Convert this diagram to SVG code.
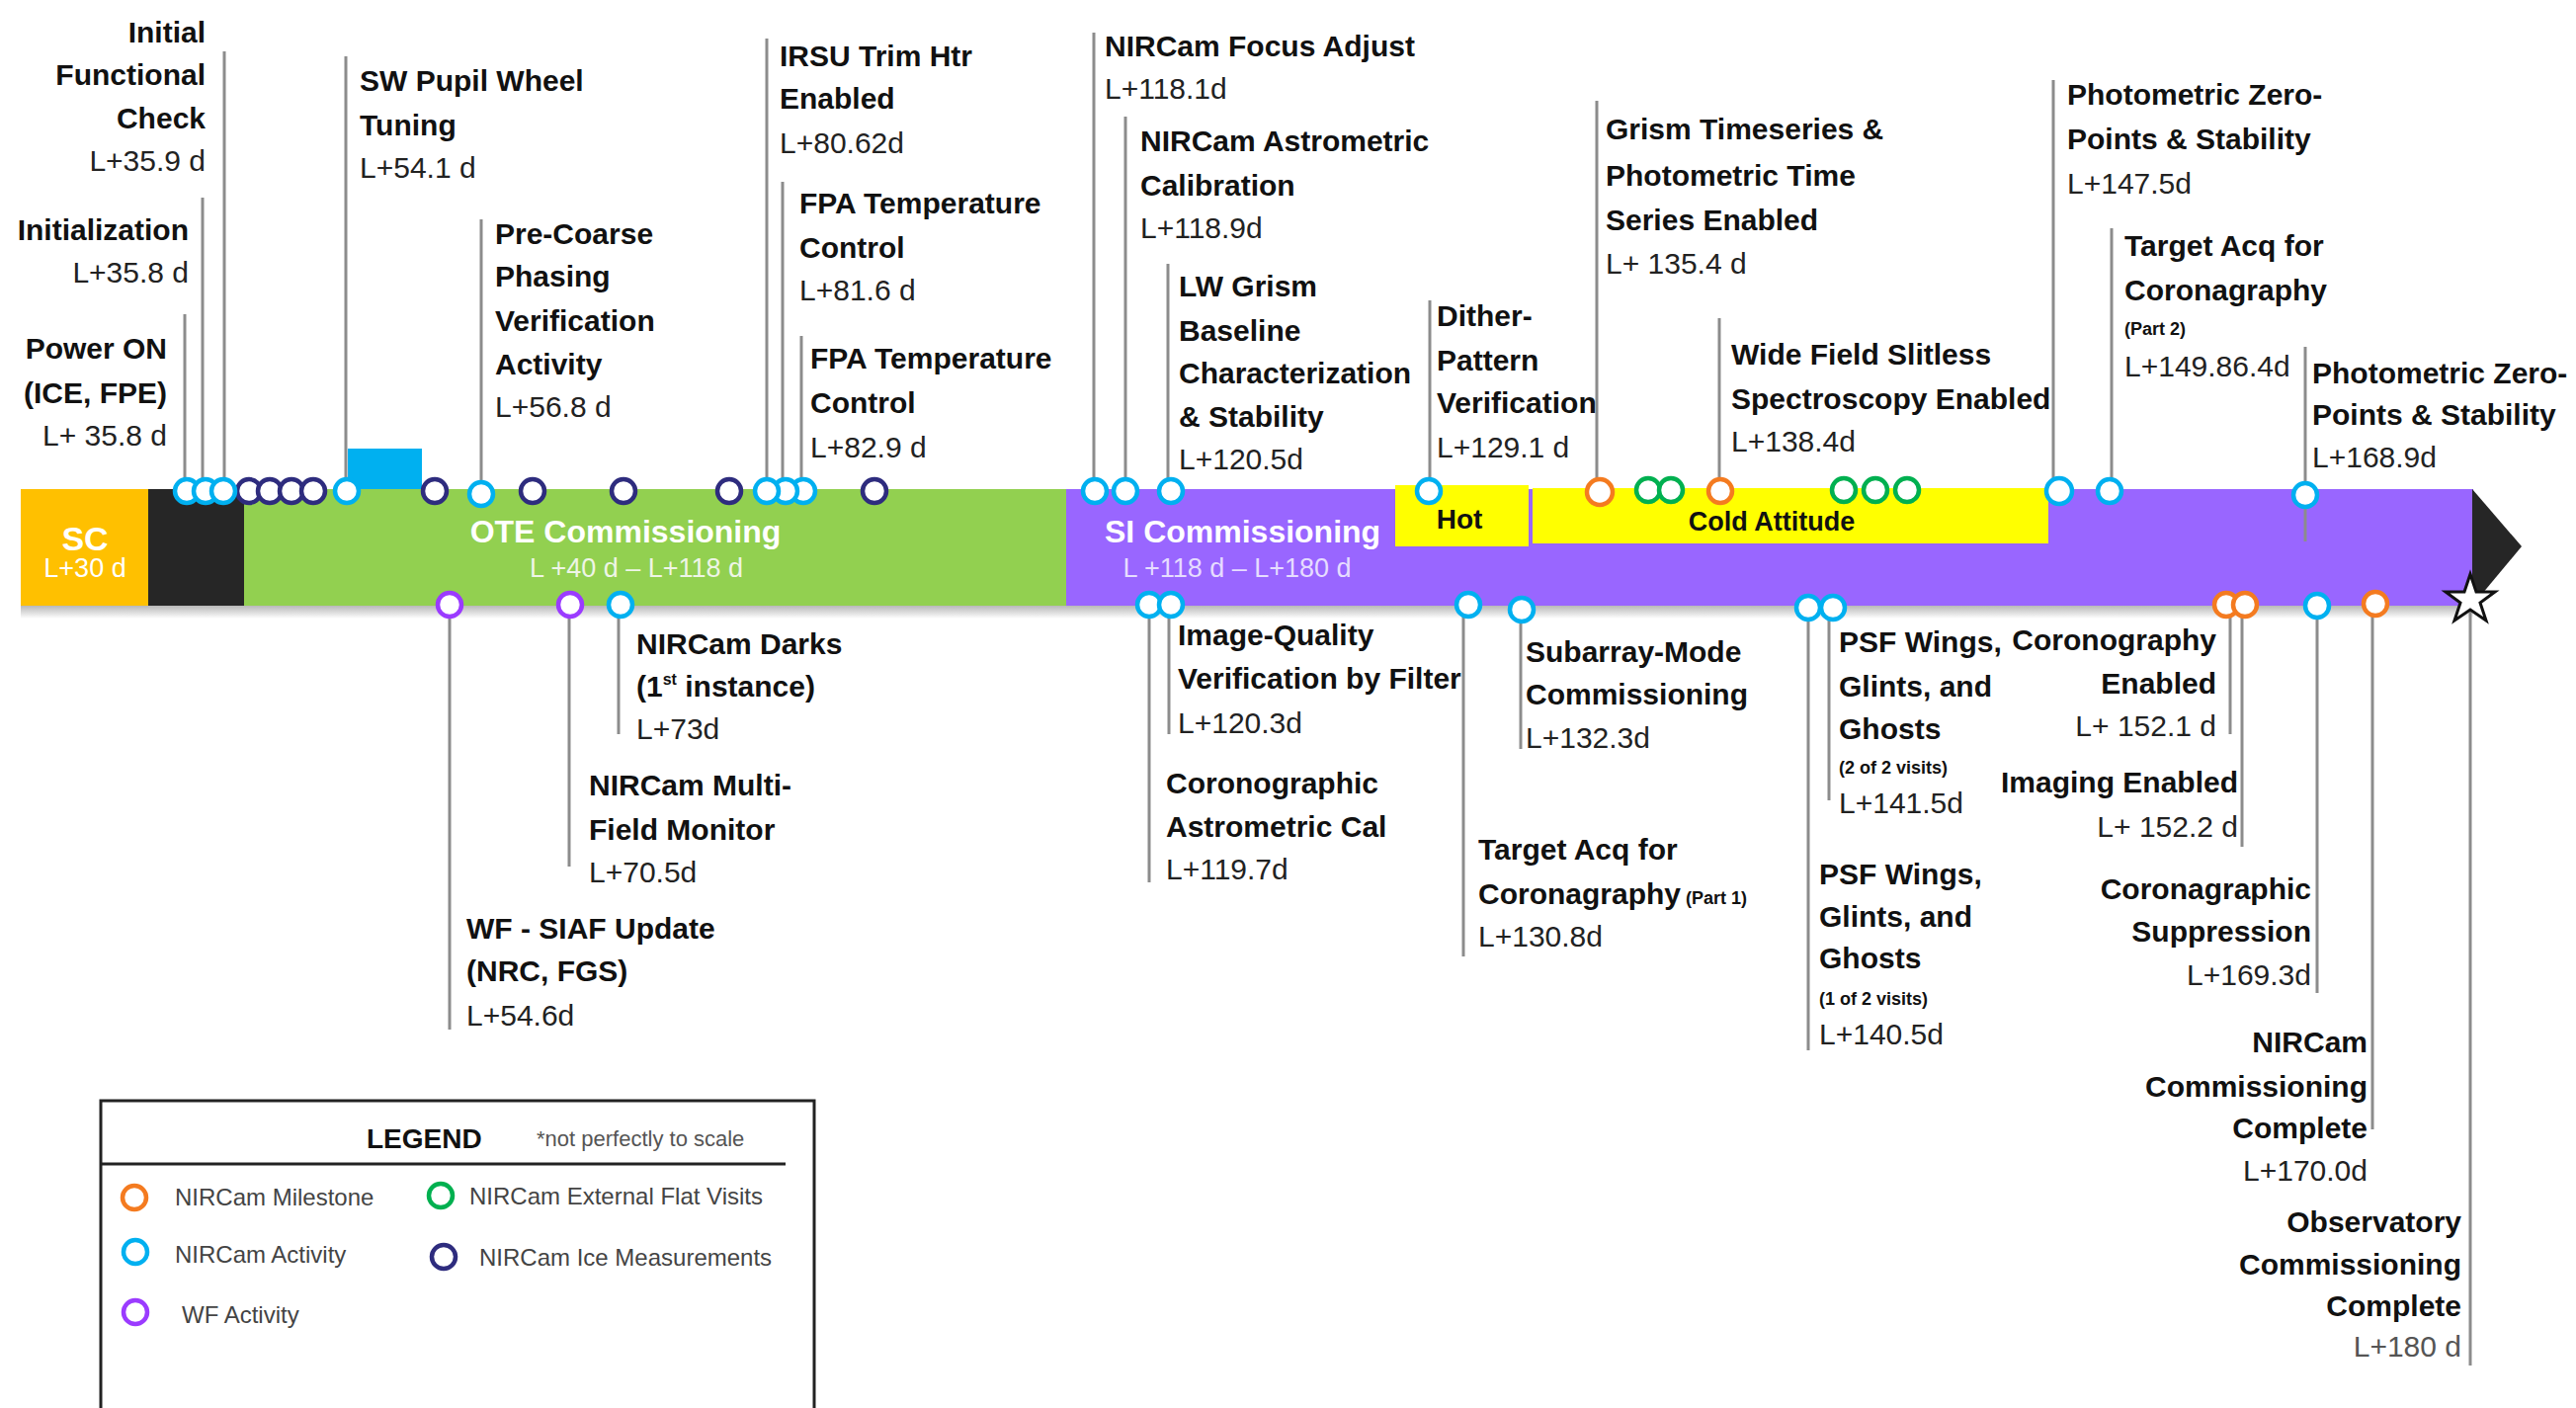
<svg xmlns="http://www.w3.org/2000/svg" width="2607" height="1425" viewBox="0 0 2607 1425">
<defs>
<style>
text{font-family:"Liberation Sans",Arial,sans-serif;font-size:30px;font-weight:bold;fill:#111}
.d{font-weight:normal;fill:#222}
.r{text-anchor:end}
.m{text-anchor:middle}
.s{font-size:18px}
.ln{stroke:#8c8c8c;stroke-width:3;fill:none}
.lb{fill:#fff;stroke:#00B0F0;stroke-width:4.5}
.nv{fill:#fff;stroke:#2E2C7E;stroke-width:4.5}
.or{fill:#fff;stroke:#F47B20;stroke-width:4.5}
.gr{fill:#fff;stroke:#00B050;stroke-width:4.5}
.pu{fill:#fff;stroke:#9B3BFF;stroke-width:4.5}
.lg{font-size:24px;font-weight:normal;fill:#444}
</style>
<linearGradient id="shadow" x1="0" y1="0" x2="0" y2="1">
<stop offset="0" stop-color="#b8b8b8"/>
<stop offset="1" stop-color="#ffffff"/>
</linearGradient>
</defs>
<rect width="2607" height="1425" fill="#fff"/>

<g id="timeline-bar">
<rect x="21" y="613" width="2482" height="13" fill="url(#shadow)"/>
<rect x="21" y="495" width="129" height="118" fill="#FFC000"/>
<rect x="150" y="495" width="97" height="118" fill="#262626"/>
<rect x="247" y="495" width="832" height="118" fill="#92D050"/>
<rect x="1079" y="495" width="1424" height="118" fill="#9966FF"/>
<polygon points="2502,495 2552,553 2502,613" fill="#262626"/>
<rect x="352" y="454" width="75" height="41" fill="#00B0F0"/>
<rect x="1412" y="491" width="135" height="62" fill="#FFFF00"/>
<rect x="1551" y="494" width="522" height="56" fill="#FFFF00"/>
<text x="86" y="557" class="m" style="fill:#fff;font-size:34px">SC</text>
<text x="86" y="584" class="m d" style="fill:#fff;font-size:27px">L+30 d</text>
<text x="633" y="549" class="m" style="fill:#fff;font-size:32px">OTE Commissioning</text>
<text x="644" y="584" class="m d" style="fill:#eef5e6;font-size:27px">L +40 d – L+118 d</text>
<text x="1118" y="549" style="fill:#fff;font-size:32px">SI Commissioning</text>
<text x="1252" y="584" class="m d" style="fill:#e6dcff;font-size:27px">L +118 d – L+180 d</text>
<text x="1477" y="535" class="m" style="font-size:28px">Hot</text>
<text x="1793" y="537" class="m" style="font-size:27px">Cold Attitude</text>
</g>

<g id="connectors">
<line class="ln" x1="227" y1="52" x2="227" y2="497"/>
<line class="ln" x1="205" y1="200" x2="205" y2="497"/>
<line class="ln" x1="187" y1="318" x2="187" y2="497"/>
<line class="ln" x1="350" y1="57" x2="350" y2="497"/>
<line class="ln" x1="487" y1="222" x2="487" y2="500"/>
<line class="ln" x1="776" y1="39" x2="776" y2="497"/>
<line class="ln" x1="792" y1="184" x2="792" y2="497"/>
<line class="ln" x1="811" y1="340" x2="811" y2="497"/>
<line class="ln" x1="1107" y1="33" x2="1107" y2="497"/>
<line class="ln" x1="1139" y1="118" x2="1139" y2="497"/>
<line class="ln" x1="1182" y1="267" x2="1182" y2="497"/>
<line class="ln" x1="1447" y1="304" x2="1447" y2="497"/>
<line class="ln" x1="1616" y1="102" x2="1616" y2="497"/>
<line class="ln" x1="1740" y1="322" x2="1740" y2="497"/>
<line class="ln" x1="2078" y1="81" x2="2078" y2="497"/>
<line class="ln" x1="2137" y1="231" x2="2137" y2="497"/>
<line class="ln" x1="2333" y1="351" x2="2333" y2="548"/>
<line class="ln" x1="626" y1="612" x2="626" y2="743"/>
<line class="ln" x1="576" y1="612" x2="576" y2="877"/>
<line class="ln" x1="455" y1="612" x2="455" y2="1042"/>
<line class="ln" x1="1183" y1="612" x2="1183" y2="743"/>
<line class="ln" x1="1163" y1="612" x2="1163" y2="893"/>
<line class="ln" x1="1481" y1="612" x2="1481" y2="968"/>
<line class="ln" x1="1539" y1="617" x2="1539" y2="758"/>
<line class="ln" x1="1830" y1="615" x2="1830" y2="1063"/>
<line class="ln" x1="1851" y1="615" x2="1851" y2="810"/>
<line class="ln" x1="2257" y1="612" x2="2257" y2="743"/>
<line class="ln" x1="2269" y1="612" x2="2269" y2="857"/>
<line class="ln" x1="2345" y1="612" x2="2345" y2="1005"/>
<line class="ln" x1="2401" y1="612" x2="2401" y2="1143"/>
<line class="ln" x1="2500" y1="612" x2="2500" y2="1382"/>
</g>

<g id="ice-measurements">
<circle class="nv" cx="252" cy="497" r="12"/>
<circle class="nv" cx="273" cy="497" r="12"/>
<circle class="nv" cx="295" cy="497" r="12"/>
<circle class="nv" cx="317" cy="497" r="12"/>
<circle class="nv" cx="440" cy="497" r="12"/>
<circle class="nv" cx="539" cy="497" r="12"/>
<circle class="nv" cx="631" cy="497" r="12"/>
<circle class="nv" cx="738" cy="497" r="12"/>
<circle class="nv" cx="885" cy="497" r="12"/>
</g>

<g id="flat-visits">
<circle class="gr" cx="1668" cy="496" r="12"/>
<circle class="gr" cx="1691" cy="496" r="12"/>
<circle class="gr" cx="1866" cy="496" r="12"/>
<circle class="gr" cx="1898" cy="496" r="12"/>
<circle class="gr" cx="1930" cy="496" r="12"/>
</g>

<g id="power-on">
<circle class="lb" cx="189" cy="497" r="12"/>
<text class="r"><tspan x="169" y="363">Power ON</tspan><tspan x="169" y="408">(ICE, FPE)</tspan><tspan x="169" y="451" class="d">L+ 35.8 d</tspan></text>
</g>
<g id="initialization">
<circle class="lb" cx="208" cy="497" r="12"/>
<text class="r"><tspan x="191" y="243">Initialization</tspan><tspan x="191" y="286" class="d">L+35.8 d</tspan></text>
</g>
<g id="initial-functional-check">
<circle class="lb" cx="226" cy="497" r="12"/>
<text class="r"><tspan x="208" y="43">Initial</tspan><tspan x="208" y="86">Functional</tspan><tspan x="208" y="130">Check</tspan><tspan x="208" y="173" class="d">L+35.9 d</tspan></text>
</g>
<g id="sw-pupil-wheel">
<circle class="lb" cx="351" cy="497" r="12"/>
<text><tspan x="364" y="92">SW Pupil Wheel</tspan><tspan x="364" y="137">Tuning</tspan><tspan x="364" y="180" class="d">L+54.1 d</tspan></text>
</g>
<g id="pre-coarse">
<circle class="lb" cx="487" cy="500" r="12"/>
<text><tspan x="501" y="247">Pre-Coarse</tspan><tspan x="501" y="290">Phasing</tspan><tspan x="501" y="335">Verification</tspan><tspan x="501" y="379">Activity</tspan><tspan x="501" y="422" class="d">L+56.8 d</tspan></text>
</g>
<g id="fpa-2">
<circle class="lb" cx="813" cy="497" r="12"/>
<text><tspan x="820" y="373">FPA Temperature</tspan><tspan x="820" y="418">Control</tspan><tspan x="820" y="463" class="d">L+82.9 d</tspan></text>
</g>
<g id="fpa-1">
<circle class="lb" cx="795" cy="497" r="12"/>
<text><tspan x="809" y="216">FPA Temperature</tspan><tspan x="809" y="261">Control</tspan><tspan x="809" y="304" class="d">L+81.6 d</tspan></text>
</g>
<g id="irsu">
<circle class="lb" cx="776" cy="497" r="12"/>
<text><tspan x="789" y="67">IRSU Trim Htr</tspan><tspan x="789" y="110">Enabled</tspan><tspan x="789" y="155" class="d">L+80.62d</tspan></text>
</g>
<g id="focus-adjust">
<circle class="lb" cx="1108" cy="497" r="12"/>
<text><tspan x="1118" y="57">NIRCam Focus Adjust</tspan><tspan x="1118" y="100" class="d">L+118.1d</tspan></text>
</g>
<g id="astrometric-cal">
<circle class="lb" cx="1139" cy="497" r="12"/>
<text><tspan x="1154" y="153">NIRCam Astrometric</tspan><tspan x="1154" y="198">Calibration</tspan><tspan x="1154" y="241" class="d">L+118.9d</tspan></text>
</g>
<g id="lw-grism">
<circle class="lb" cx="1185" cy="497" r="12"/>
<text><tspan x="1193" y="300">LW Grism</tspan><tspan x="1193" y="345">Baseline</tspan><tspan x="1193" y="388">Characterization</tspan><tspan x="1193" y="432">&amp; Stability</tspan><tspan x="1193" y="475" class="d">L+120.5d</tspan></text>
</g>
<g id="dither">
<circle class="lb" cx="1446" cy="497" r="12"/>
<text><tspan x="1454" y="330">Dither-</tspan><tspan x="1454" y="375">Pattern</tspan><tspan x="1454" y="418">Verification</tspan><tspan x="1454" y="463" class="d">L+129.1 d</tspan></text>
</g>
<g id="grism-timeseries">
<circle class="or" cx="1619" cy="498" r="13"/>
<text><tspan x="1625" y="141">Grism Timeseries &amp;</tspan><tspan x="1625" y="188">Photometric Time</tspan><tspan x="1625" y="233">Series Enabled</tspan><tspan x="1625" y="277" class="d">L+ 135.4 d</tspan></text>
</g>
<g id="wfss">
<circle class="or" cx="1741" cy="497" r="12"/>
<text><tspan x="1752" y="369">Wide Field Slitless</tspan><tspan x="1752" y="414">Spectroscopy Enabled</tspan><tspan x="1752" y="457" class="d">L+138.4d</tspan></text>
</g>
<g id="photometric-1">
<circle class="lb" cx="2084" cy="497" r="13"/>
<text><tspan x="2092" y="106">Photometric Zero-</tspan><tspan x="2092" y="151">Points &amp; Stability</tspan><tspan x="2092" y="196" class="d">L+147.5d</tspan></text>
</g>
<g id="target-acq-2">
<circle class="lb" cx="2135" cy="497" r="12"/>
<text><tspan x="2150" y="259">Target Acq for</tspan><tspan x="2150" y="304">Coronagraphy</tspan><tspan x="2150" y="339" class="s">(Part 2)</tspan><tspan x="2150" y="381" class="d">L+149.86.4d</tspan></text>
</g>
<g id="photometric-2">
<circle class="lb" cx="2333" cy="501" r="12"/>
<text><tspan x="2340" y="388">Photometric Zero-</tspan><tspan x="2340" y="430">Points &amp; Stability</tspan><tspan x="2340" y="473" class="d">L+168.9d</tspan></text>
</g>

<g id="wf-siaf">
<circle class="pu" cx="455" cy="612" r="12"/>
<text><tspan x="472" y="950">WF - SIAF Update</tspan><tspan x="472" y="993">(NRC, FGS)</tspan><tspan x="472" y="1038" class="d">L+54.6d</tspan></text>
</g>
<g id="multi-field">
<circle class="pu" cx="577" cy="612" r="12"/>
<text><tspan x="596" y="805">NIRCam Multi-</tspan><tspan x="596" y="850">Field Monitor</tspan><tspan x="596" y="893" class="d">L+70.5d</tspan></text>
</g>
<g id="darks">
<circle class="lb" cx="628" cy="612" r="12"/>
<text><tspan x="644" y="662">NIRCam Darks</tspan><tspan x="644" y="705">(1<tspan style="font-size:16px" dy="-12">st</tspan><tspan dy="12"> instance)</tspan></tspan><tspan x="644" y="748" class="d">L+73d</tspan></text>
</g>
<g id="coro-astrometric">
<circle class="lb" cx="1163" cy="612" r="12"/>
<text><tspan x="1180" y="803">Coronographic</tspan><tspan x="1180" y="847">Astrometric Cal</tspan><tspan x="1180" y="890" class="d">L+119.7d</tspan></text>
</g>
<g id="image-quality">
<circle class="lb" cx="1185" cy="612" r="12"/>
<text><tspan x="1192" y="653">Image-Quality</tspan><tspan x="1192" y="697">Verification by Filter</tspan><tspan x="1192" y="742" class="d">L+120.3d</tspan></text>
</g>
<g id="target-acq-1">
<circle class="lb" cx="1486" cy="612" r="12"/>
<text><tspan x="1496" y="870">Target Acq for</tspan><tspan x="1496" y="915">Coronagraphy<tspan class="s"> (Part 1)</tspan></tspan><tspan x="1496" y="958" class="d">L+130.8d</tspan></text>
</g>
<g id="subarray">
<circle class="lb" cx="1540" cy="617" r="12"/>
<text><tspan x="1544" y="670">Subarray-Mode</tspan><tspan x="1544" y="713">Commissioning</tspan><tspan x="1544" y="757" class="d">L+132.3d</tspan></text>
</g>
<g id="psf-1">
<circle class="lb" cx="1830" cy="615" r="12"/>
<text><tspan x="1841" y="895">PSF Wings,</tspan><tspan x="1841" y="938">Glints, and</tspan><tspan x="1841" y="980">Ghosts</tspan><tspan x="1841" y="1017" class="s">(1 of 2 visits)</tspan><tspan x="1841" y="1057" class="d">L+140.5d</tspan></text>
</g>
<g id="psf-2">
<circle class="lb" cx="1855" cy="615" r="12"/>
<text><tspan x="1861" y="660">PSF Wings,</tspan><tspan x="1861" y="705">Glints, and</tspan><tspan x="1861" y="748">Ghosts</tspan><tspan x="1861" y="783" class="s">(2 of 2 visits)</tspan><tspan x="1861" y="823" class="d">L+141.5d</tspan></text>
</g>
<g id="coronography-enabled">
<circle class="or" cx="2253" cy="612" r="12"/>
<text class="r"><tspan x="2243" y="658">Coronography</tspan><tspan x="2243" y="702">Enabled</tspan><tspan x="2243" y="745" class="d">L+ 152.1 d</tspan></text>
</g>
<g id="imaging-enabled">
<circle class="or" cx="2272" cy="612" r="12"/>
<text class="r"><tspan x="2265" y="802">Imaging Enabled</tspan><tspan x="2265" y="847" class="d">L+ 152.2 d</tspan></text>
</g>
<g id="coronagraphic-suppression">
<circle class="lb" cx="2345" cy="613" r="12"/>
<text class="r"><tspan x="2339" y="910">Coronagraphic</tspan><tspan x="2339" y="953">Suppression</tspan><tspan x="2339" y="997" class="d">L+169.3d</tspan></text>
</g>
<g id="nircam-complete">
<circle class="or" cx="2404" cy="611" r="12"/>
<text class="r"><tspan x="2396" y="1065">NIRCam</tspan><tspan x="2396" y="1110">Commissioning</tspan><tspan x="2396" y="1152">Complete</tspan><tspan x="2396" y="1195" class="d">L+170.0d</tspan></text>
</g>
<g id="observatory-complete">
<polygon points="2500,581 2506,599 2525,599 2510,610 2516,628 2500,617 2484,628 2490,610 2475,599 2494,599" fill="#fff" stroke="#111" stroke-width="3" stroke-linejoin="miter"/>
<text class="r"><tspan x="2491" y="1247">Observatory</tspan><tspan x="2491" y="1290">Commissioning</tspan><tspan x="2491" y="1332">Complete</tspan><tspan x="2491" y="1373" class="d" style="fill:#555">L+180 d</tspan></text>
</g>

<g id="legend">
<rect x="102" y="1114" width="722" height="330" fill="none" stroke="#222" stroke-width="3"/>
<line x1="102" y1="1178" x2="795" y2="1178" stroke="#222" stroke-width="3"/>
<text x="371" y="1162" style="font-size:28px">LEGEND</text>
<text x="543" y="1160" style="font-size:22px;font-weight:normal;fill:#555">*not perfectly to scale</text>
<circle class="or" cx="136" cy="1212" r="12"/>
<text x="177" y="1220" class="lg">NIRCam Milestone</text>
<circle class="gr" cx="446" cy="1210" r="12"/>
<text x="475" y="1219" class="lg">NIRCam External Flat Visits</text>
<circle class="lb" cx="137" cy="1267" r="12"/>
<text x="177" y="1278" class="lg">NIRCam Activity</text>
<circle class="nv" cx="449" cy="1272" r="12"/>
<text x="485" y="1281" class="lg">NIRCam Ice Measurements</text>
<circle class="pu" cx="137" cy="1328" r="12"/>
<text x="184" y="1339" class="lg">WF Activity</text>
</g>
</svg>
